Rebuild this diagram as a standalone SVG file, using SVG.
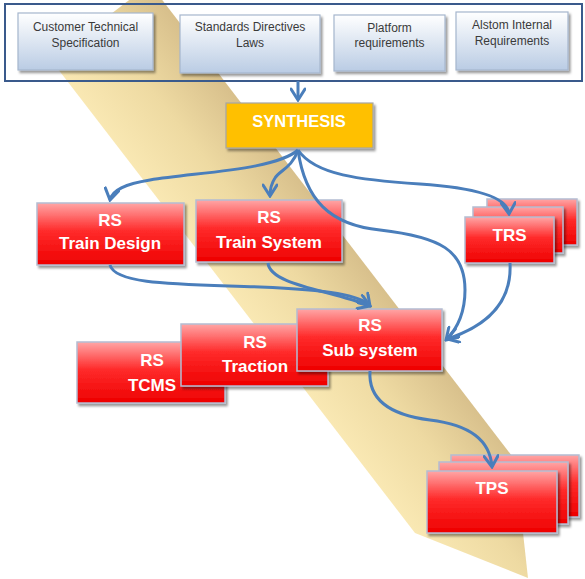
<svg xmlns="http://www.w3.org/2000/svg" width="585" height="579" viewBox="0 0 585 579">
  <defs>
    <linearGradient id="band" gradientUnits="userSpaceOnUse" x1="300" y1="383" x2="398" y2="307">
      <stop offset="0" stop-color="#F9E8B3"/>
      <stop offset="0.5" stop-color="#EEDAA2"/>
      <stop offset="1" stop-color="#D8C08C"/>
    </linearGradient>
    <linearGradient id="blueg" x1="0" y1="0" x2="0" y2="1">
      <stop offset="0" stop-color="#FFFFFF"/>
      <stop offset="1" stop-color="#BACCE4"/>
    </linearGradient>
    <linearGradient id="redg" x1="0" y1="0" x2="0" y2="1">
      <stop offset="0" stop-color="#FFA6A6"/>
      <stop offset="0.45" stop-color="#FF2B2B"/>
      <stop offset="1" stop-color="#EE0000"/>
    </linearGradient>
    <filter id="sh" x="-10%" y="-10%" width="125%" height="130%">
      <feDropShadow dx="2" dy="2.5" stdDeviation="1" flood-color="#000" flood-opacity="0.4"/>
    </filter>
    <marker id="ah" viewBox="-13 -8 15 16" markerWidth="15" markerHeight="16" refX="0" refY="0" orient="auto" markerUnits="userSpaceOnUse">
      <path d="M-11,-7 L0,0 L-11,7" fill="none" stroke="#4A7EBB" stroke-width="3" stroke-linecap="round"/>
    </marker>
    <style>
      .blue { fill: url(#blueg); stroke: #A6B6CD; stroke-width: 1.2; filter: url(#sh); }
      .red { fill: url(#redg); stroke: #B4BDD2; stroke-width: 1.5; filter: url(#sh); }
      .syn { fill: #FFC000; stroke: #A6A6A6; stroke-width: 1.2; filter: url(#sh); }
      .bt { font-family: "Liberation Sans", Arial, sans-serif; font-size: 12px; fill: #3A3A3A; text-anchor: middle; }
      .wt { font-family: "Liberation Sans", Arial, sans-serif; font-size: 17px; font-weight: bold; fill: #FFFFFF; text-anchor: middle; }
      .con { fill: none; stroke: #4A7EBB; stroke-width: 3; marker-end: url(#ah); }
    </style>
  </defs>

  <rect x="0" y="0" width="585" height="579" fill="#FFFFFF"/>

  <!-- background band arrow -->
  <polygon points="51,60 150,-16 515,460 528,578 415,533" fill="url(#band)"/>

  <!-- input container -->
  <g id="inputs">
    <rect x="5" y="4" width="577" height="77" fill="none" stroke="#3A5A8C" stroke-width="2"/>
  </g>

  <g id="customer">
    <rect class="blue" x="18" y="13" width="135" height="57"/>
    <text class="bt" x="85.5" y="31">Customer Technical</text>
    <text class="bt" x="85.5" y="47">Specification</text>
  </g>
  <g id="standards">
    <rect class="blue" x="180" y="15" width="140" height="58"/>
    <text class="bt" x="250" y="31">Standards Directives</text>
    <text class="bt" x="250" y="47">Laws</text>
  </g>
  <g id="platform">
    <rect class="blue" x="334" y="15" width="111" height="56"/>
    <text class="bt" x="389.5" y="32">Platform</text>
    <text class="bt" x="389.5" y="47">requirements</text>
  </g>
  <g id="alstom">
    <rect class="blue" x="456" y="12" width="112" height="58"/>
    <text class="bt" x="512" y="29">Alstom Internal</text>
    <text class="bt" x="512" y="45">Requirements</text>
  </g>

  <g id="synthesis">
    <rect class="syn" x="226" y="103" width="147" height="45"/>
    <text class="wt" x="299" y="127" style="font-size:16.5px">SYNTHESIS</text>
  </g>

  <g id="train-design">
    <rect class="red" x="37" y="203" width="147" height="62"/>
    <text class="wt" x="110" y="226">RS</text>
    <text class="wt" x="110" y="249">Train Design</text>
  </g>
  <g id="train-system">
    <rect class="red" x="196" y="200" width="146" height="62"/>
    <text class="wt" x="269" y="223">RS</text>
    <text class="wt" x="269" y="248">Train System</text>
  </g>
  <g id="trs">
    <rect class="red" x="487" y="199" width="90" height="46"/>
    <rect class="red" x="473" y="207" width="90" height="46"/>
    <rect class="red" x="465" y="217" width="89" height="46"/>
    <text class="wt" x="509.5" y="241">TRS</text>
  </g>
  <g id="tcms">
    <rect class="red" x="77" y="342" width="148" height="61"/>
    <text class="wt" x="152" y="366">RS</text>
    <text class="wt" x="152" y="391">TCMS</text>
  </g>
  <g id="traction">
    <rect class="red" x="181" y="324" width="147" height="62"/>
    <text class="wt" x="255" y="348">RS</text>
    <text class="wt" x="255" y="372">Traction</text>
  </g>
  <g id="sub-system">
    <rect class="red" x="297" y="309" width="145" height="62"/>
    <text class="wt" x="370" y="331">RS</text>
    <text class="wt" x="370" y="356">Sub system</text>
  </g>
  <g id="tps">
    <rect class="red" x="451" y="455" width="128" height="62"/>
    <rect class="red" x="439" y="462" width="129" height="62"/>
    <rect class="red" x="427" y="471" width="130" height="62"/>
    <text class="wt" x="492" y="494">TPS</text>
  </g>

  <g id="connectors">
    <path class="con" d="M298,81 L298,100"/>
    <path class="con" d="M298,150 C275,170 200,172 150,180 C125,184 112,190 110,200"/>
    <path class="con" d="M298,150 C292,168 280,170 275,178 C271,184 270,189 270,196"/>
    <path class="con" d="M298,150 C305,200 330,225 380,230 C440,237 465,250 465,290 C465,315 456,330 446,340"/>
    <path class="con" d="M298,150 C315,175 360,180 420,184 C480,188 508,198 509,214"/>
    <path class="con" d="M110,265 C115,285 180,284 260,287 C330,290 360,295 370,306"/>
    <path class="con" d="M268,263 C270,285 330,290 370,306"/>
    <path class="con" d="M510,263 C512,300 490,325 447,339"/>
    <path class="con" d="M370,371 C368,400 390,415 430,420 C470,425 490,440 492,467"/>
  </g>
</svg>
